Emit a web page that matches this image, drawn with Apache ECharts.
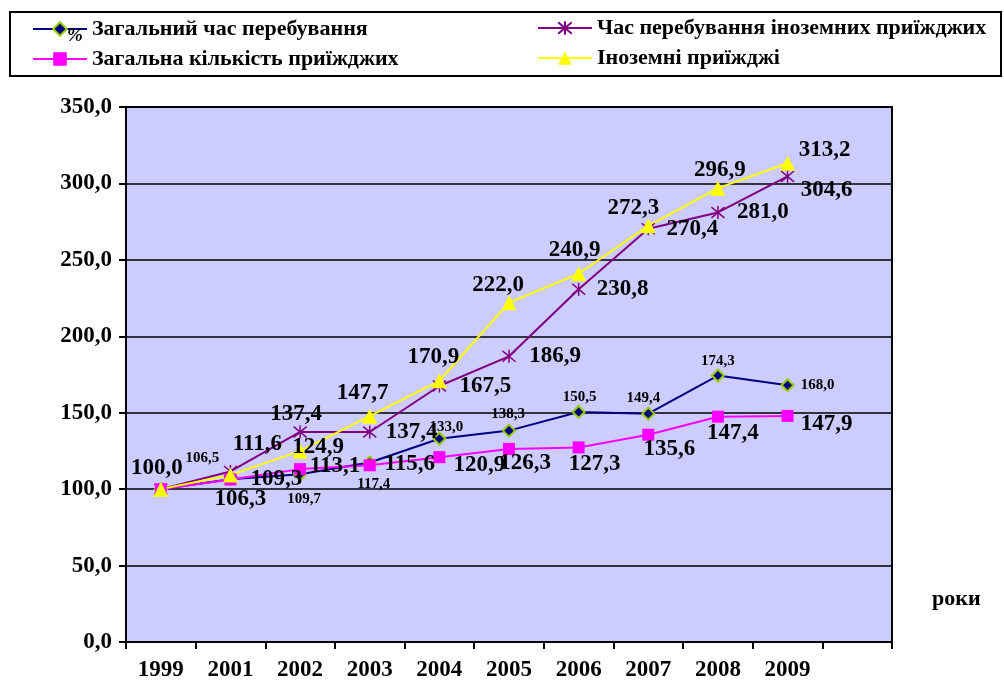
<!DOCTYPE html>
<html>
<head>
<meta charset="utf-8">
<script src="https://cdn.jsdelivr.net/npm/echarts@6/dist/echarts.min.js"></script>
<style>html,body{margin:0;padding:0;background:#fff;}#c{width:1004px;height:682px;}</style>
</head>
<body>
<div id="c"></div>
<script>
// ---- data ----
var categories = ['1999','2001','2002','2003','2004','2005','2006','2007','2008','2009',''];
var totalStay   = [100.0,106.5,109.7,117.4,133.0,138.3,150.5,149.4,174.3,168.0];
var foreignStay = [100.0,111.6,137.4,137.4,167.5,186.9,230.8,270.4,281.0,304.6];
var totalArr    = [100.0,106.3,113.1,115.6,120.9,126.3,127.3,135.6,147.4,147.9];
var foreignArr  = [100.0,109.3,124.9,147.7,170.9,222.0,240.9,272.3,296.9,313.2];
var yTicks = {min:0, max:350, interval:50};

// ---- label placement (styles, not data) ----
var offTotalStay   = [null,[-28,-21],[4,25],[4,22],[7,-12],[-1,-16],[1,-15],[-5,-16],[0,-14],[30,0]];
var offForeignStay = [null,[27,-27],[-4,-18],[42,0],[46,0],[46,0],[44,0],[44,0],[45,0],[39,14]];
var offTotalArr    = [null,[10,20],[35,-3],[40,-1],[40,8],[16,14],[16,17],[21,14],[15,16],[39,8]];
var offForeignArr  = [[-4,-21],[46,4],[18,-4],[-7,-23],[-6,-24],[-11,-18],[-4,-24],[-15,-18],[2,-18],[37,-13]];

var FONT = '"Liberation Serif","Times New Roman",serif';
function fmt(v){ return v.toFixed(1).replace('.', ','); }
function build(values, offs, size){
  return values.map(function(v,i){
    var o = offs[i];
    if (!o) return {value:v, label:{show:false}};
    return {value:v, label:{show:true, position:'inside', offset:o,
      fontSize:size, fontWeight:'bold', fontFamily:FONT, color:'#000',
      formatter:function(p){return fmt(p.value);} }};
  });
}
var star = 'path://M0,0L10,10M10,0L0,10M5,-1L5,11';

var chart = echarts.init(document.getElementById('c'), null, {renderer:'canvas'});
function lg(name, left, top){
  return {data:[name], left:left, top:top, itemWidth:54, itemHeight:17, itemGap:0,
    textStyle:{fontFamily:FONT, fontWeight:'bold', fontSize:22, color:'#000'}, padding:0};
}
chart.setOption({
  animation:false,
  backgroundColor:'#fff',
  graphic:[
    {type:'rect', shape:{x:10,y:12,width:991,height:64}, style:{fill:'#fff', stroke:'#000', lineWidth:2}, z:-1},
    {type:'text', left:67, top:27, style:{text:'%', font:'bold italic 19px '+FONT, fill:'#000'}, z:10},
    {type:'text', left:932, top:588, style:{text:'роки', font:'bold 22px '+FONT, fill:'#000'}}
  ],
  legend:[
    lg('Загальний час перебування', 32, 18),
    lg('Час перебування іноземних приїжджих', 537, 17),
    lg('Загальна кількість приїжджих', 32, 48),
    lg('Іноземні приїжджі', 537, 47)
  ],
  grid:{left:126, right:112, top:107, bottom:39, show:true, backgroundColor:'#CCCCFF', borderColor:'#000', borderWidth:2, containLabel:false},
  xAxis:{type:'category', data:categories, boundaryGap:true,
    axisLine:{lineStyle:{color:'#000', width:2}},
    axisTick:{show:true, length:7, lineStyle:{color:'#000', width:2}},
    axisLabel:{margin:17, fontFamily:FONT, fontWeight:'bold', fontSize:23, color:'#000'}},
  yAxis:{type:'value', min:yTicks.min, max:yTicks.max, interval:yTicks.interval,
    axisLine:{show:true, lineStyle:{color:'#000', width:2}},
    axisTick:{show:true, length:7, lineStyle:{color:'#000', width:2}},
    splitLine:{lineStyle:{color:'#000', width:1.5}},
    axisLabel:{margin:14, fontFamily:FONT, fontWeight:'bold', fontSize:23, color:'#000', formatter:function(v){return fmt(v);}}},
  series:[
    {name:'Загальний час перебування', type:'line', data:build(totalStay, offTotalStay, 15),
      symbol:'diamond', symbolSize:12, lineStyle:{color:'#000080', width:2},
      itemStyle:{color:'#000080', borderColor:'#99CC00', borderWidth:2}},
    {name:'Час перебування іноземних приїжджих', type:'line', data:build(foreignStay, offForeignStay, 23),
      symbol:star, symbolSize:13, lineStyle:{color:'#800080', width:2},
      itemStyle:{color:'#800080', borderColor:'#800080', borderWidth:1.5}},
    {name:'Загальна кількість приїжджих', type:'line', data:build(totalArr, offTotalArr, 23),
      symbol:'rect', symbolSize:12, lineStyle:{color:'#FF00FF', width:2},
      itemStyle:{color:'#FF00FF', borderColor:'#FF00FF', borderWidth:0}},
    {name:'Іноземні приїжджі', type:'line', data:build(foreignArr, offForeignArr, 23),
      symbol:'triangle', symbolSize:15, lineStyle:{color:'#FFFF00', width:2},
      itemStyle:{color:'#FFFF00', borderColor:'#FFFF00', borderWidth:0}}
  ]
});
</script>
</body>
</html>
